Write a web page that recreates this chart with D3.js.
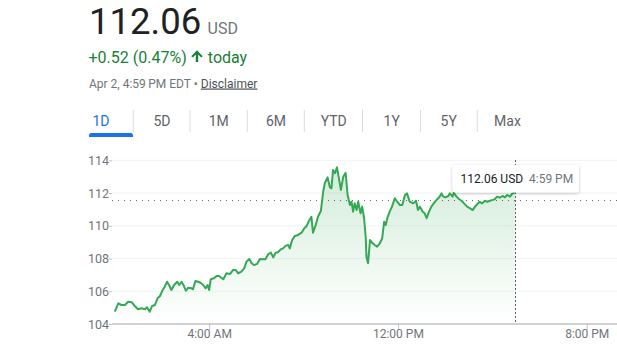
<!DOCTYPE html>
<html>
<head>
<meta charset="utf-8">
<script src="https://cdn.jsdelivr.net/npm/d3@7"></script>
<style>
  html, body { margin: 0; padding: 0; background: #fff; }
  svg { display: block; font-family: Roboto, Arial, sans-serif; }
</style>
</head>
<body>
<svg id="chart" width="617" height="356"></svg>
<script>
// ---- data (minutes since midnight, price USD) ----
const times = [0,9,17,26,34,43,51,59,68,77,82,89,95,102,109,115,122,127,133,138,144,151,159,164,170,176,181,187,195,199,205,212,218,225,231,236,240,244,252,259,265,276,284,293,301,307,314,322,329,335,342,348,354,362,369,376,383,390,397,403,409,415,422,428,434,441,445,451,458,466,475,482,488,494,500,504,511,517,524,530,534,541,547,551,555,560,565,570,575,581,587,592,598,602,606,610,615,619,625,629,634,638,640,644,649,654,661,667,674,680,685,689,694,699,705,712,718,725,731,738,743,750,759,766,771,776,783,788,793,799,805,811,818,825,831,835,841,848,852,859,862,869,876,882,888,896,903,910,916,922,928,934,941,947,954,961,966,972,979,986,992,998,1005,1011,1019];
const prices = [104.75,105.26,105.16,105.16,105.36,105.33,105.10,104.90,104.96,104.90,105.02,104.75,105.10,105.16,105.57,105.71,106.08,106.28,106.58,106.38,106.08,106.38,106.58,106.38,106.58,106.32,106.03,106.22,106.18,106.12,106.63,106.58,106.52,106.38,106.18,106.38,106.08,106.73,106.79,106.93,106.93,106.73,107.10,107.05,107.30,107.30,107.10,107.20,107.40,107.81,107.97,107.71,107.60,107.67,107.97,107.95,107.95,108.26,108.36,108.07,108.36,108.38,108.56,108.62,108.77,108.83,108.62,109.13,109.38,109.44,109.58,109.85,109.99,110.31,110.55,109.58,110.05,110.57,110.90,112.08,112.60,112.96,112.35,112.29,113.41,113.21,113.57,112.90,112.19,113.00,113.24,111.88,111.27,111.47,110.86,111.37,110.96,111.47,110.76,111.17,110.46,109.33,108.11,107.71,109.13,108.97,108.83,108.72,108.93,109.24,110.25,110.05,110.55,110.86,111.17,111.68,111.47,111.27,111.27,111.88,111.98,111.47,111.37,111.53,110.96,111.17,110.86,110.76,110.46,110.86,111.17,111.37,111.58,111.74,111.98,111.78,111.74,111.82,111.98,111.78,112.02,111.78,111.62,111.53,111.37,111.17,111.07,110.96,111.17,111.33,111.47,111.37,111.53,111.47,111.53,111.58,111.62,111.78,111.72,111.82,111.74,111.88,111.78,111.98,112.06];
const previousClose = 111.54;
const yTicks = [104, 106, 108, 110, 112, 114];
const xTickValues = [240, 720, 1200];
const xTickLabels = ["4:00 AM", "12:00 PM", "8:00 PM"];
const tabs = ["1D", "5D", "1M", "6M", "YTD", "1Y", "5Y", "Max"];
const lastPrice = "112.06";
const changeText = "+0.52 (0.47%)";
const tooltipTime = "4:59 PM";

const svg = d3.select("#chart");
const GREEN = "#34a853", TGREEN = "#188038", GRAY = "#70757a", DARK = "#202124";

// ---- header ----
svg.append("text").attr("x", 89).attr("y", 33.5).attr("font-size", 36.5).attr("fill", DARK).text(lastPrice);
svg.append("text").attr("x", 207.5).attr("y", 33.5).attr("font-size", 16).attr("fill", GRAY).text("USD");
svg.append("text").attr("x", 88.5).attr("y", 62.5).attr("font-size", 16).attr("fill", TGREEN).text(changeText);
// bold up arrow
svg.append("path")
  .attr("d", "M191.3,56.2 L197,50.3 L202.7,56.2 L201.2,57.6 L198.2,54.6 V62 H195.8 V54.6 L192.8,57.6 Z")
  .attr("fill", TGREEN);
svg.append("text").attr("x", 207.8).attr("y", 62.5).attr("font-size", 16).attr("fill", TGREEN).text("today");
const sub = svg.append("text").attr("x", 89).attr("y", 87.5).attr("font-size", 12).attr("fill", GRAY);
sub.append("tspan").text("Apr 2, 4:59\u2009PM EDT \u2022 ");
sub.append("tspan").attr("fill", "#4d5156").attr("text-decoration", "underline").text("Disclaimer");

// ---- tabs ----
const tabCenters = [101, 162, 218.7, 276, 333.7, 391.7, 448.7, 507.5];
const sepX = [133.3, 190, 247.3, 304.3, 362.5, 420.5, 477.3];
svg.selectAll(".sep").data(sepX).enter().append("line")
  .attr("x1", d => d).attr("x2", d => d).attr("y1", 110).attr("y2", 132)
  .attr("stroke", "#dadce0").attr("stroke-width", 1);
svg.selectAll(".tab").data(tabs).enter().append("text")
  .attr("x", (d, i) => tabCenters[i]).attr("y", 126).attr("text-anchor", "middle")
  .attr("font-size", 14).attr("fill", (d, i) => i === 0 ? "#1a73e8" : "#5f6368").text(d => d);
svg.append("path").attr("d", "M89,137 V135.5 a2.5,2.5 0 0 1 2.5,-2.5 H130.5 a2.5,2.5 0 0 1 2.5,2.5 V137 Z").attr("fill", "#1a73e8");

// ---- scales ----
const x = d3.scaleLinear().domain([-7, 1277]).range([112, 617]);
const y = d3.scaleLinear().domain([104, 114]).range([324, 160.3]);
const data = times.map((t, i) => ({ t, v: prices[i] }));

// gridlines
svg.append("g").selectAll("line").data(yTicks.slice(1)).enter().append("line")
  .attr("x1", 112).attr("x2", 617).attr("y1", d => y(d)).attr("y2", d => y(d))
  .attr("stroke", "#f1f3f4").attr("stroke-width", 1);

// y labels
const yAxis = svg.append("g").attr("transform", "translate(112,0)")
  .call(d3.axisLeft(y).tickValues(yTicks).tickSize(3).tickFormat(d3.format("d")));
yAxis.select(".domain").remove();
yAxis.selectAll("line").attr("stroke", "#bdc1c6");
yAxis.selectAll("text").attr("font-size", 12.5).attr("fill", GRAY).attr("font-family", "Roboto, Arial, sans-serif").attr("x", -3);

// area gradient
const defs = svg.append("defs");
const grad = defs.append("linearGradient").attr("id", "g").attr("gradientUnits", "userSpaceOnUse")
  .attr("x1", 0).attr("x2", 0).attr("y1", 165).attr("y2", 324);
grad.append("stop").attr("offset", "0%").attr("stop-color", GREEN).attr("stop-opacity", 0.22);
grad.append("stop").attr("offset", "100%").attr("stop-color", GREEN).attr("stop-opacity", 0);
const sh = defs.append("filter").attr("id", "sh").attr("x", "-20%").attr("y", "-40%").attr("width", "140%").attr("height", "180%");
sh.append("feDropShadow").attr("dx", 0).attr("dy", 1).attr("stdDeviation", 1.5).attr("flood-color", "#000").attr("flood-opacity", 0.25);

svg.append("path").datum(data)
  .attr("d", d3.area().x(d => x(d.t)).y0(y(104)).y1(d => y(d.v)))
  .attr("fill", "url(#g)");

// previous close dotted line
svg.append("line").attr("x1", 112).attr("x2", 617).attr("y1", y(previousClose)).attr("y2", y(previousClose))
  .attr("stroke", "#5f6368").attr("stroke-width", 1).attr("stroke-dasharray", "1,5");

// price line
svg.append("path").datum(data)
  .attr("d", d3.line().x(d => x(d.t)).y(d => y(d.v)))
  .attr("fill", "none").attr("stroke", GREEN).attr("stroke-width", 2).attr("stroke-linejoin", "round");

// x axis
const xAxis = svg.append("g").attr("transform", `translate(0,${y(104)})`)
  .call(d3.axisBottom(x).tickValues(xTickValues).tickSize(6).tickFormat((d, i) => xTickLabels[i]));
xAxis.select(".domain").attr("stroke", "#bdc1c6").attr("stroke-width", 1.5).attr("d", "M112,0H617");
xAxis.selectAll(".tick line").attr("stroke", "#bdc1c6");
xAxis.selectAll(".tick text").attr("font-size", 12).attr("fill", GRAY).attr("font-family", "Roboto, Arial, sans-serif").attr("dy", "0.45em");

// vertical hover line
const lastT = times[times.length - 1];
svg.append("line").attr("x1", x(lastT)).attr("x2", x(lastT)).attr("y1", 160).attr("y2", y(104))
  .attr("stroke", "#5f6368").attr("stroke-width", 1).attr("stroke-dasharray", "2,2");

// tooltip
svg.append("rect").attr("x", 452.5).attr("y", 165).attr("width", 126.5).attr("height", 27.5).attr("rx", 3)
  .attr("fill", "#fff").attr("filter", "url(#sh)");
svg.append("text").attr("x", 460.5).attr("y", 182.5).attr("font-size", 12).attr("fill", DARK).text(lastPrice + " USD");
svg.append("text").attr("x", 529).attr("y", 182.5).attr("font-size", 12).attr("fill", GRAY).text(tooltipTime);
</script>
</body>
</html>
